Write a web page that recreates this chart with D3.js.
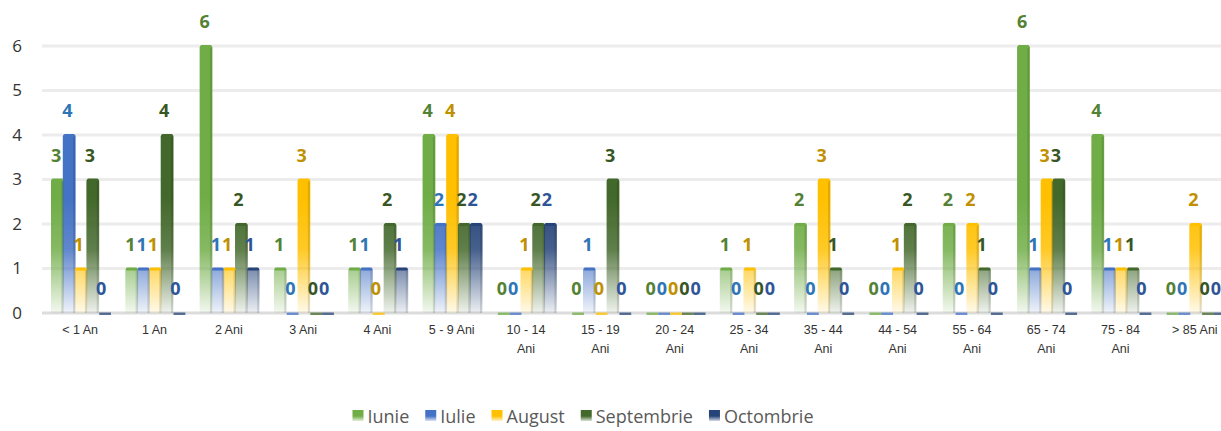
<!DOCTYPE html>
<html lang="en">
<head>
    <meta charset="utf-8">
    <style>
        body { margin: 0; background: #fff; }
        svg { display: block; }
    </style>
    <title>Cazuri pe grupe de varsta</title>
</head>
<body>
<svg></svg>
<script src="https://cdn.jsdelivr.net/npm/d3@7/dist/d3.min.js"></script>
<script>
    const categories = ["< 1 An", "1 An", "2 Ani", "3 Ani", "4 Ani", "5 - 9 Ani", "10 - 14 Ani", "15 - 19 Ani",
        "20 - 24 Ani", "25 - 34 Ani", "35 - 44 Ani", "44 - 54 Ani", "55 - 64 Ani", "65 - 74 Ani", "75 - 84 Ani", "> 85 Ani"];
    const seriesNames = ["Iunie", "Iulie", "August", "Septembrie", "Octombrie"];
    const iunie      = [3, 1, 6, 1, 1, 4, 0, 0, 0, 1, 2, 0, 2, 6, 4, 0];
    const iulie      = [4, 1, 1, 0, 1, 2, 0, 1, 0, 0, 0, 0, 0, 1, 1, 0];
    const august     = [1, 1, 1, 3, 0, 4, 1, 0, 0, 1, 3, 1, 2, 3, 1, 2];
    const septembrie = [3, 4, 2, 0, 2, 2, 2, 3, 0, 0, 1, 2, 1, 3, 1, 0];
    const octombrie  = [0, 0, 1, 0, 1, 2, 2, 0, 0, 0, 0, 0, 0, 0, 0, 0];
    const yTicks = [0, 1, 2, 3, 4, 5, 6];

    const seriesValues = [iunie, iulie, august, septembrie, octombrie];
    const barColors = ["#70ad47", "#4472c4", "#ffc000", "#43682b", "#264478"];
    const labelColors = ["#548235", "#2e75b6", "#bf9000", "#375623", "#2f5597"];

    const width = 1221, height = 431;
    const svg = d3.select("svg").attr("width", width).attr("height", height);

    const x0 = d3.scaleBand().domain(categories).range([43, 1232]);
    const x1 = d3.scaleBand().domain(seriesNames).range([8, 67]);
    // labels sit a little tighter than the bars (3D perspective)
    const xl = d3.scaleBand().domain(seriesNames).range([7.5, 63.75]);
    const y = d3.scaleLinear().domain([0, 6]).range([313, 46]);

    // gradients: solid on top, fading towards the floor
    const defs = svg.append("defs");
    seriesNames.forEach((s, i) => {
        const g = defs.append("linearGradient")
            .attr("id", "grad" + i)
            .attr("gradientUnits", "userSpaceOnUse")
            .attr("x1", 0).attr("x2", 0)
            .attr("y1", y(2.6)).attr("y2", y(0));
        g.append("stop").attr("offset", "0%").attr("stop-color", barColors[i]).attr("stop-opacity", 1);
        g.append("stop").attr("offset", "45%").attr("stop-color", barColors[i]).attr("stop-opacity", 0.85);
        g.append("stop").attr("offset", "100%").attr("stop-color", barColors[i]).attr("stop-opacity", 0.08);
    });

    // gridlines
    svg.append("g")
        .selectAll("line")
        .data(yTicks)
        .join("line")
        .attr("x1", 42).attr("x2", width)
        .attr("y1", d => y(d)).attr("y2", d => y(d))
        .attr("stroke", d => d === 0 ? "#dcdcdc" : "#ececec")
        .attr("stroke-width", 3);

    // y axis labels
    const yAxis = d3.axisLeft(y).tickValues(yTicks).tickFormat(d3.format("d")).tickSize(0).tickPadding(0);
    svg.append("g")
        .attr("transform", "translate(22,0)")
        .call(yAxis)
        .call(g => g.select(".domain").remove())
        .call(g => g.selectAll("text")
            .attr("font-family", "Open Sans, sans-serif")
            .attr("font-size", 17)
            .attr("fill", "#333"));

    // x axis labels
    const xAxis = d3.axisBottom(x0).tickSize(0).tickPadding(0);
    svg.append("g")
        .attr("transform", "translate(0,325)")
        .call(xAxis)
        .call(g => g.select(".domain").remove())
        .call(g => g.selectAll("text")
            .attr("font-family", "Liberation Sans Narrow, Liberation Sans, sans-serif")
            .attr("font-size", 12.5)
            .attr("fill", "#333")
            .each(function (d) {
                const t = d3.select(this);
                t.text(null);
                if (d.length > 9) {
                    const head = d.replace(/ Ani$/, "");
                    t.append("tspan").attr("x", 0).attr("dy", "0.71em").text(head);
                    t.append("tspan").attr("x", 0).attr("dy", "1.55em").text("Ani");
                } else {
                    t.append("tspan").attr("x", 0).attr("dy", "0.71em").text(d);
                }
            }));

    // bars
    const rows = [];
    categories.forEach((c, ci) => {
        seriesNames.forEach((s, si) => {
            rows.push({cat: c, series: s, si: si, value: seriesValues[si][ci]});
        });
    });

    const groups = svg.append("g")
        .selectAll("g")
        .data(categories)
        .join("g")
        .attr("transform", d => `translate(${x0(d)},0)`);

    const bw = x1.bandwidth();

    groups.selectAll("rect.bar")
        .data(c => rows.filter(r => r.cat === c && r.value > 0))
        .join("rect")
        .attr("class", "bar")
        .attr("x", d => x1(d.series))
        .attr("y", d => y(d.value))
        .attr("width", bw + 1)
        .attr("height", d => y(0) - y(d.value))
        .attr("rx", 1.5)
        .attr("fill", d => `url(#grad${d.si})`);

    // darker right edge for a bit of depth
    groups.selectAll("rect.edge")
        .data(c => rows.filter(r => r.cat === c && r.value > 0))
        .join("rect")
        .attr("class", "edge")
        .attr("x", d => x1(d.series) + bw - 1.5)
        .attr("y", d => y(d.value) + 1)
        .attr("width", 2)
        .attr("height", d => y(0) - y(d.value) - 1)
        .attr("fill", "#000")
        .attr("opacity", 0.12);

    // top cap
    groups.selectAll("rect.cap")
        .data(c => rows.filter(r => r.cat === c && r.value > 0))
        .join("rect")
        .attr("class", "cap")
        .attr("x", d => x1(d.series) + 0.5)
        .attr("y", d => y(d.value) - 1)
        .attr("width", bw)
        .attr("height", 3)
        .attr("rx", 1.5)
        .attr("fill", d => barColors[d.si]);

    // zero-value slabs on the floor
    groups.selectAll("rect.zero")
        .data(c => rows.filter(r => r.cat === c && r.value === 0))
        .join("rect")
        .attr("class", "zero")
        .attr("x", d => x1(d.series) + 1)
        .attr("y", y(0) - 0.5)
        .attr("width", bw)
        .attr("height", 2.5)
        .attr("fill", d => barColors[d.si])
        .attr("opacity", 0.75);

    // value labels
    groups.selectAll("text.val")
        .data(c => rows.filter(r => r.cat === c))
        .join("text")
        .attr("class", "val")
        .attr("x", d => xl(d.series) + xl.bandwidth() / 2)
        .attr("y", d => y(d.value) - 18)
        .attr("text-anchor", "middle")
        .attr("font-family", "Open Sans, sans-serif")
        .attr("font-weight", "bold")
        .attr("font-size", 18)
        .attr("fill", d => labelColors[d.si])
        .text(d => d.value);

    // legend
    seriesNames.forEach((s, i) => {
        const g = defs.append("linearGradient")
            .attr("id", "lg" + i)
            .attr("x1", 0).attr("x2", 0).attr("y1", 0).attr("y2", 1);
        g.append("stop").attr("offset", "55%").attr("stop-color", barColors[i]);
        g.append("stop").attr("offset", "100%").attr("stop-color", barColors[i]).attr("stop-opacity", 0.2);
    });
    const legend = svg.append("g").attr("transform", "translate(0,419)");
    const items = legend.selectAll("g")
        .data(seriesNames)
        .join("g");
    items.append("rect")
        .attr("y", -9)
        .attr("width", 11)
        .attr("height", 11)
        .attr("fill", (d, i) => `url(#lg${i})`);
    items.append("text")
        .attr("x", 15)
        .attr("y", 2)
        .attr("dy", "0.1em")
        .attr("font-family", "Open Sans, sans-serif")
        .attr("font-size", 18)
        .attr("fill", "#595959")
        .text(d => d);

    let lx = 0;
    const gap = 16;
    const offsets = [];
    items.each(function () {
        offsets.push(lx);
        lx += this.getBBox().width + gap;
    });
    const total = lx - gap;
    const startX = 583 - total / 2;
    items.attr("transform", (d, i) => `translate(${startX + offsets[i]},0)`);
</script>
</body>
</html>
